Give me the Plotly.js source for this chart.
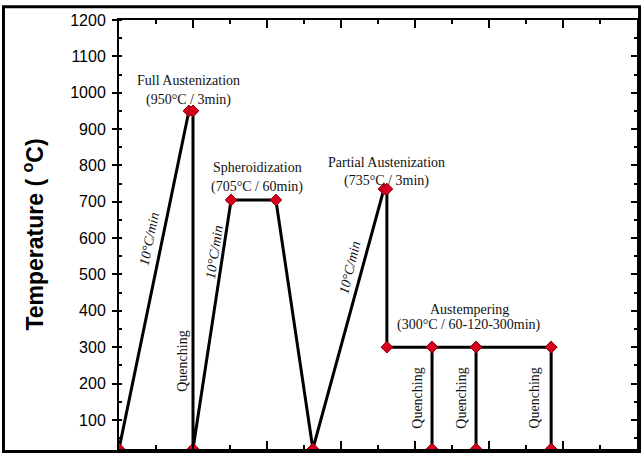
<!DOCTYPE html>
<html>
<head>
<meta charset="utf-8">
<script src="https://cdn.plot.ly/plotly-3.0.1.min.js"></script>
<style>
  html, body { margin: 0; padding: 0; background: #fff; }
  #chart { width: 641px; height: 454px; }
</style>
</head>
<body>
<div id="chart"></div>
<script>
// Heat-treatment path (x: process-time units, y: temperature °C)
const pathX = [0, 1.89, 2.0, 2.0, 3.03, 4.24, 5.24, 7.16, 7.24, 7.24, 8.46, 9.65, 11.68];
const pathY = [20, 950, 950, 20, 705, 705, 20, 735, 735, 300, 300, 300, 300];

// Quenching drops from the austempering hold
const quenchX = [8.46, 9.65, 11.68];
const quenchTop = 300;
const quenchBottom = 20;

// Y axis ticks
const yTickVals = [100, 200, 300, 400, 500, 600, 700, 800, 900, 1000, 1100, 1200];
const yTickText = ['100', '200', '300', '400', '500', '600', '700', '800', '900', '1000', '1100', '1200'];

// Stage labels [text, x, y]
const stageLabels = [
  ['Full Austenization', 1.89, 1033],
  ['(950°C / 3min)', 1.89, 979],
  ['Spheroidization', 3.74, 795],
  ['(705°C / 60min)', 3.74, 742],
  ['Partial Austenization', 7.24, 809],
  ['(735°C / 3min)', 7.24, 757],
  ['Austempering', 9.46, 403],
  ['(300°C / 60-120-300min)', 9.46, 362]
];
// Rate labels [text, x, y, angle]
const rateLabels = [
  ['10°C/min', 0.82, 599, -78.4],
  ['10°C/min', 2.58, 563, -81.3],
  ['10°C/min', 6.24, 519, -76.5]
];
// Quenching labels [text, x, y]
const quenchLabels = [
  ['Quenching', 1.73, 260],
  ['Quenching', 8.08, 161],
  ['Quenching', 9.27, 161],
  ['Quenching', 11.24, 161]
];

const redMarker = { symbol: 'diamond', size: 9, color: '#d8001c', line: { color: '#8a0010', width: 1 } };
const black = '#000000';

const traces = [{
  x: pathX, y: pathY, type: 'scatter', mode: 'lines+markers',
  line: { color: black, width: 3 }, marker: redMarker, showlegend: false, hoverinfo: 'skip'
}];
quenchX.forEach(function (qx) {
  traces.push({
    x: [qx, qx], y: [quenchTop, quenchBottom], type: 'scatter', mode: 'lines+markers',
    line: { color: black, width: 3 }, marker: redMarker, showlegend: false, hoverinfo: 'skip'
  });
});
traces.push({ x: [], y: [], yaxis: 'y2', type: 'scatter', mode: 'lines', showlegend: false, hoverinfo: 'skip' });

const serif = 'Liberation Serif, Times New Roman, serif';
const annotations = [];
stageLabels.forEach(function (s) {
  annotations.push({ text: s[0], x: s[1], y: s[2], xref: 'x', yref: 'y', showarrow: false,
    font: { family: serif, size: 14, color: '#111111' } });
});
rateLabels.forEach(function (s) {
  annotations.push({ text: '<i>' + s[0] + '</i>', x: s[1], y: s[2], xref: 'x', yref: 'y', showarrow: false,
    textangle: s[3], font: { family: serif, size: 14, color: '#111111' } });
});
quenchLabels.forEach(function (s) {
  annotations.push({ text: s[0], x: s[1], y: s[2], xref: 'x', yref: 'y', showarrow: false,
    textangle: -90, font: { family: serif, size: 14, color: '#111111' } });
});

const layout = {
  width: 641, height: 454,
  margin: { l: 119, r: 4, t: 20, b: 5, pad: 0 },
  paper_bgcolor: '#ffffff', plot_bgcolor: '#ffffff',
  showlegend: false,
  xaxis: {
    range: [0, 14], showgrid: false, zeroline: false,
    showline: true, linecolor: black, linewidth: 2, mirror: 'ticks',
    ticks: 'inside', tick0: 0, dtick: 2, ticklen: 8, tickwidth: 2, tickcolor: black,
    showticklabels: false,
    minor: { ticks: 'inside', tick0: 0, dtick: 1, ticklen: 4, tickwidth: 2, tickcolor: black, showgrid: false }
  },
  yaxis: {
    range: [20, 1200], showgrid: false, zeroline: false,
    showline: true, linecolor: black, linewidth: 2,
    ticks: 'outside', ticklen: 5, tickwidth: 2, tickcolor: black,
    ticklabelstandoff: 3,
    tickmode: 'array', tickvals: yTickVals, ticktext: yTickText,
    tickfont: { family: 'Liberation Sans, Arial, sans-serif', size: 16, color: black },
    minor: { ticks: 'inside', tick0: 0, dtick: 50, ticklen: 3, tickwidth: 2, tickcolor: black, showgrid: false },
    title: { text: 'Temperature ( <sup>o</sup>C)', standoff: 20,
      font: { family: 'Liberation Sans, Arial, sans-serif', size: 23, color: black, weight: 'bold' } }
  },
  yaxis2: {
    overlaying: 'y', side: 'right', anchor: 'x',
    range: [20, 1200], showgrid: false, zeroline: false,
    showline: true, linecolor: black, linewidth: 2,
    ticks: 'inside', tick0: 0, dtick: 100, ticklen: 6, tickwidth: 2, tickcolor: black,
    showticklabels: false,
    minor: { ticks: 'inside', tick0: 0, dtick: 50, ticklen: 3, tickwidth: 2, tickcolor: black, showgrid: false }
  },
  annotations: annotations,
  shapes: [{
    type: 'rect', xref: 'paper', yref: 'paper', layer: 'above',
    x0: -0.223, x1: 1.005, y0: -0.006, y1: 1.031,
    line: { color: black, width: 3 }, fillcolor: 'rgba(0,0,0,0)'
  }]
};

Plotly.newPlot('chart', traces, layout, { staticPlot: true, displayModeBar: false });
</script>
</body>
</html>
